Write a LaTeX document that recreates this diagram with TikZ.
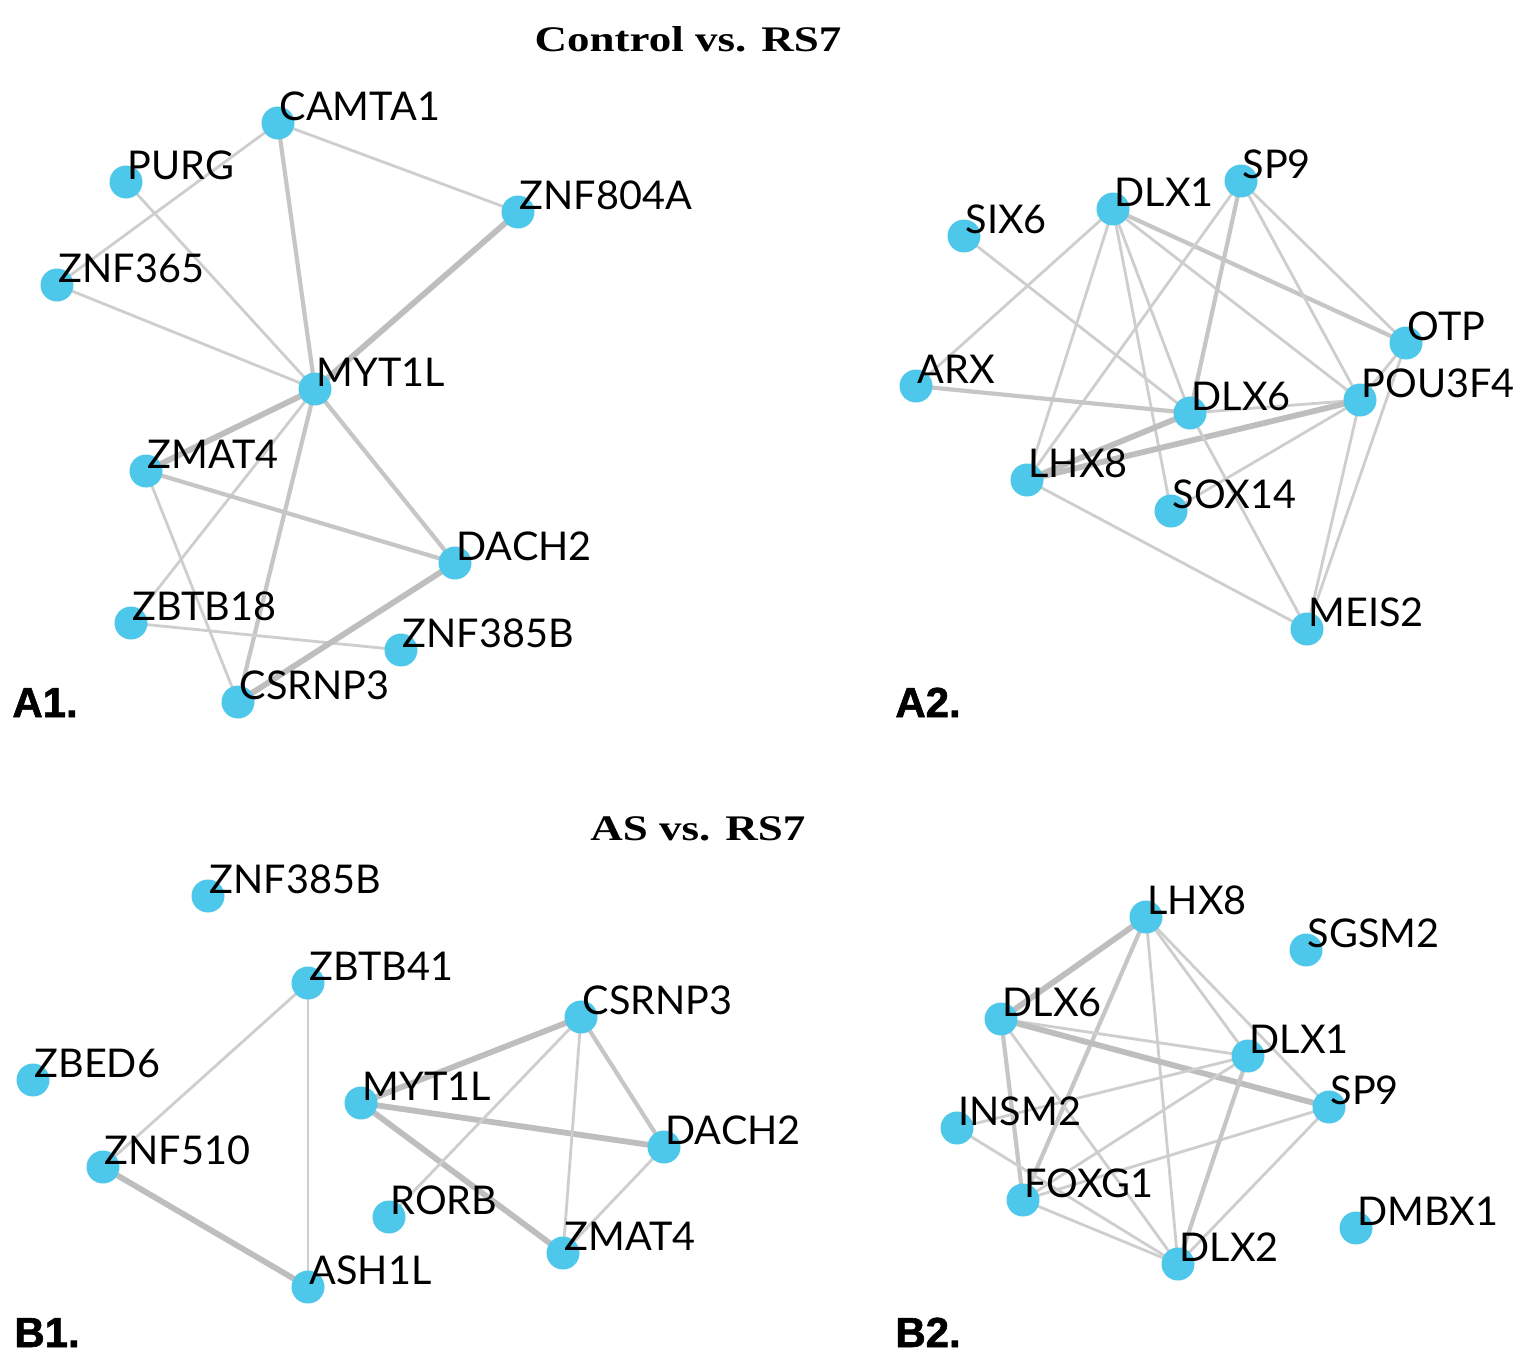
\documentclass[tikz,border=0pt]{standalone}
\usepackage{fontspec}
\usepackage{graphicx}
\newfontfamily\latofont{Lato}
\newfontfamily\titlefont{Liberation Serif Bold}
\newfontfamily\panelfont{Liberation Sans Bold}[FakeBold=1.5]
\definecolor{nodec}{RGB}{77,200,235}
\definecolor{ethin}{RGB}{206,206,206}
\definecolor{emed}{RGB}{198,198,198}
\definecolor{ethick}{RGB}{190,190,190}
\pgfdeclarelayer{bg}
\pgfdeclarelayer{edges}
\pgfsetlayers{bg,edges,main}
\tikzset{
  gnode/.style={circle, fill=nodec, draw=none, minimum size=16.5pt, inner sep=0pt},
  lbl/.style={font=\latofont\fontsize{19.8}{21}\selectfont, anchor=base west, xshift=0.6pt, yshift=1.5pt, inner sep=0pt, text=black},
  ea/.style={draw=ethin, line width=1.4pt},
  eb/.style={draw=emed, line width=2.1pt},
  ec/.style={draw=ethick, line width=2.9pt},
  ttl/.style={font=\titlefont\fontsize{18}{20}\selectfont, anchor=base, inner sep=0pt},
  pnl/.style={font=\panelfont\fontsize{21}{24}\selectfont, anchor=base west, inner sep=0pt}
}
\newcommand\gnd[3]{\node[gnode] (#1) at (#2) {};\node[lbl] (#1-l) at (#1.center) {#3};}
\begin{document}
\begin{tikzpicture}[x=0.5pt, y=-0.5pt]
\useasboundingbox (0,0) rectangle (1535,1359);
\begin{pgfonlayer}{bg}
\fill[white] (0,0) rectangle (1535,1359);
\end{pgfonlayer}
% titles
\node[ttl] (t1) at (688,52) {\scalebox{1.25}[1]{Control vs. RS7}};
\node[ttl] (t2) at (698,840) {\scalebox{1.25}[1]{AS vs. RS7}};
\node[pnl] (pA1) at (12,717) {A1.};
\node[pnl] (pA2) at (895,717) {A2.};
\node[pnl] (pB1) at (14,1347) {B1.};
\node[pnl] (pB2) at (895,1347) {B2.};
% A1 nodes
\gnd{a1camta}{278,123}{CAMTA1}
\gnd{a1purg}{126,182}{PURG}
\gnd{a1zf}{518,212}{ZNF804A}
\gnd{a1zt}{57,285}{ZNF365}
\gnd{a1myt}{315,389}{MYT1L}
\gnd{a1zmat}{146,471}{ZMAT4}
\gnd{a1dach}{455,563}{DACH2}
\gnd{a1zbtb}{131,623}{ZBTB18}
\gnd{a1zn}{401,650}{ZNF385B}
\gnd{a1csr}{238,702}{CSRNP3}
% A2 nodes
\gnd{a2six}{964,236}{SIX6}
\gnd{a2dlxa}{1113,209}{DLX1}
\gnd{a2sp}{1241,181}{SP9}
\gnd{a2otp}{1406,343}{OTP}
\gnd{a2arx}{916,386}{ARX}
\gnd{a2pou}{1360,400}{POU3F4}
\gnd{a2dlxf}{1190,413}{DLX6}
\gnd{a2lhx}{1027,480}{LHX8}
\gnd{a2sox}{1171,511}{SOX14}
\gnd{a2meis}{1307,629}{MEIS2}
% B1 nodes
\gnd{b1zn}{208,896}{ZNF385B}
\gnd{b1zbtb}{308,983}{ZBTB41}
\gnd{b1csr}{581,1017}{CSRNP3}
\gnd{b1zbed}{33,1080}{ZBED6}
\gnd{b1myt}{361,1103}{MYT1L}
\gnd{b1zf}{103,1167}{ZNF510}
\gnd{b1dach}{664,1147}{DACH2}
\gnd{b1rorb}{389,1217}{RORB}
\gnd{b1zmat}{563,1253}{ZMAT4}
\gnd{b1ash}{308,1287}{ASH1L}
% B2 nodes
\gnd{b2lhx}{1146,917}{LHX8}
\gnd{b2sgsm}{1306,950}{SGSM2}
\gnd{b2dlxf}{1001,1019}{DLX6}
\gnd{b2dlxa}{1248,1056}{DLX1}
\gnd{b2sp}{1329,1107}{SP9}
\gnd{b2insm}{957,1128}{INSM2}
\gnd{b2fox}{1023,1200}{FOXG1}
\gnd{b2dmbx}{1356,1228}{DMBX1}
\gnd{b2dlxb}{1178,1264}{DLX2}
\begin{pgfonlayer}{edges}
% A1 edges
\draw[ea] (a1camta.center) -- (a1zt.center);
\draw[ea] (a1camta.center) -- (a1zf.center);
\draw[eb] (a1camta.center) -- (a1myt.center);
\draw[ea] (a1purg.center) -- (a1myt.center);
\draw[ea] (a1zt.center) -- (a1myt.center);
\draw[ec] (a1zf.center) -- (a1myt.center);
\draw[ec] (a1myt.center) -- (a1zmat.center);
\draw[eb] (a1myt.center) -- (a1dach.center);
\draw[eb] (a1myt.center) -- (a1csr.center);
\draw[ea] (a1myt.center) -- (a1zbtb.center);
\draw[eb] (a1zmat.center) -- (a1dach.center);
\draw[ea] (a1zmat.center) -- (a1csr.center);
\draw[ea] (a1zbtb.center) -- (a1zn.center);
\draw[ec] (a1dach.center) -- (a1csr.center);
% A2 edges
\draw[ea] (a2dlxa.center) -- (a2arx.center);
\draw[ea] (a2dlxa.center) -- (a2lhx.center);
\draw[ea] (a2dlxa.center) -- (a2sox.center);
\draw[ea] (a2dlxa.center) -- (a2dlxf.center);
\draw[ea] (a2dlxa.center) -- (a2pou.center);
\draw[eb] (a2dlxa.center) -- (a2otp.center);
\draw[ea] (a2six.center) -- (a2dlxf.center);
\draw[ea] (a2sp.center) -- (a2lhx.center);
\draw[eb] (a2sp.center) -- (a2dlxf.center);
\draw[ea] (a2sp.center) -- (a2pou.center);
\draw[ea] (a2sp.center) -- (a2otp.center);
\draw[eb] (a2arx.center) -- (a2dlxf.center);
\draw[ea] (a2dlxf.center) -- (a2pou.center);
\draw[ec] (a2lhx.center) -- (a2dlxf.center);
\draw[ec] (a2lhx.center) -- (a2pou.center);
\draw[ea] (a2lhx.center) -- (a2meis.center);
\draw[ea] (a2dlxf.center) -- (a2meis.center);
\draw[ea] (a2sox.center) -- (a2pou.center);
\draw[ea] (a2pou.center) -- (a2meis.center);
\draw[ea] (a2otp.center) -- (a2meis.center);
\draw[ea] (a2pou.center) -- (a2otp.center);
% B1 edges
\draw[ea] (b1zbtb.center) -- (b1zf.center);
\draw[ea] (b1zbtb.center) -- (b1ash.center);
\draw[ec] (b1zf.center) -- (b1ash.center);
\draw[ec] (b1myt.center) -- (b1csr.center);
\draw[ec] (b1myt.center) -- (b1dach.center);
\draw[ec] (b1myt.center) -- (b1zmat.center);
\draw[eb] (b1csr.center) -- (b1dach.center);
\draw[ea] (b1csr.center) -- (b1rorb.center);
\draw[ea] (b1csr.center) -- (b1zmat.center);
\draw[ea] (b1dach.center) -- (b1zmat.center);
% B2 edges
\draw[ec] (b2lhx.center) -- (b2dlxf.center);
\draw[eb] (b2lhx.center) -- (b2fox.center);
\draw[ea] (b2lhx.center) -- (b2dlxb.center);
\draw[ea] (b2lhx.center) -- (b2dlxa.center);
\draw[ea] (b2lhx.center) -- (b2sp.center);
\draw[ea] (b2dlxf.center) -- (b2dlxa.center);
\draw[ec] (b2dlxf.center) -- (b2sp.center);
\draw[eb] (b2dlxf.center) -- (b2fox.center);
\draw[ea] (b2dlxf.center) -- (b2dlxb.center);
\draw[ea] (b2insm.center) -- (b2dlxa.center);
\draw[ea] (b2insm.center) -- (b2dlxb.center);
\draw[ea] (b2fox.center) -- (b2dlxa.center);
\draw[ea] (b2fox.center) -- (b2sp.center);
\draw[ea] (b2fox.center) -- (b2dlxb.center);
\draw[eb] (b2dlxa.center) -- (b2dlxb.center);
\draw[ea] (b2sp.center) -- (b2dlxb.center);
\end{pgfonlayer}
\end{tikzpicture}
\end{document}
